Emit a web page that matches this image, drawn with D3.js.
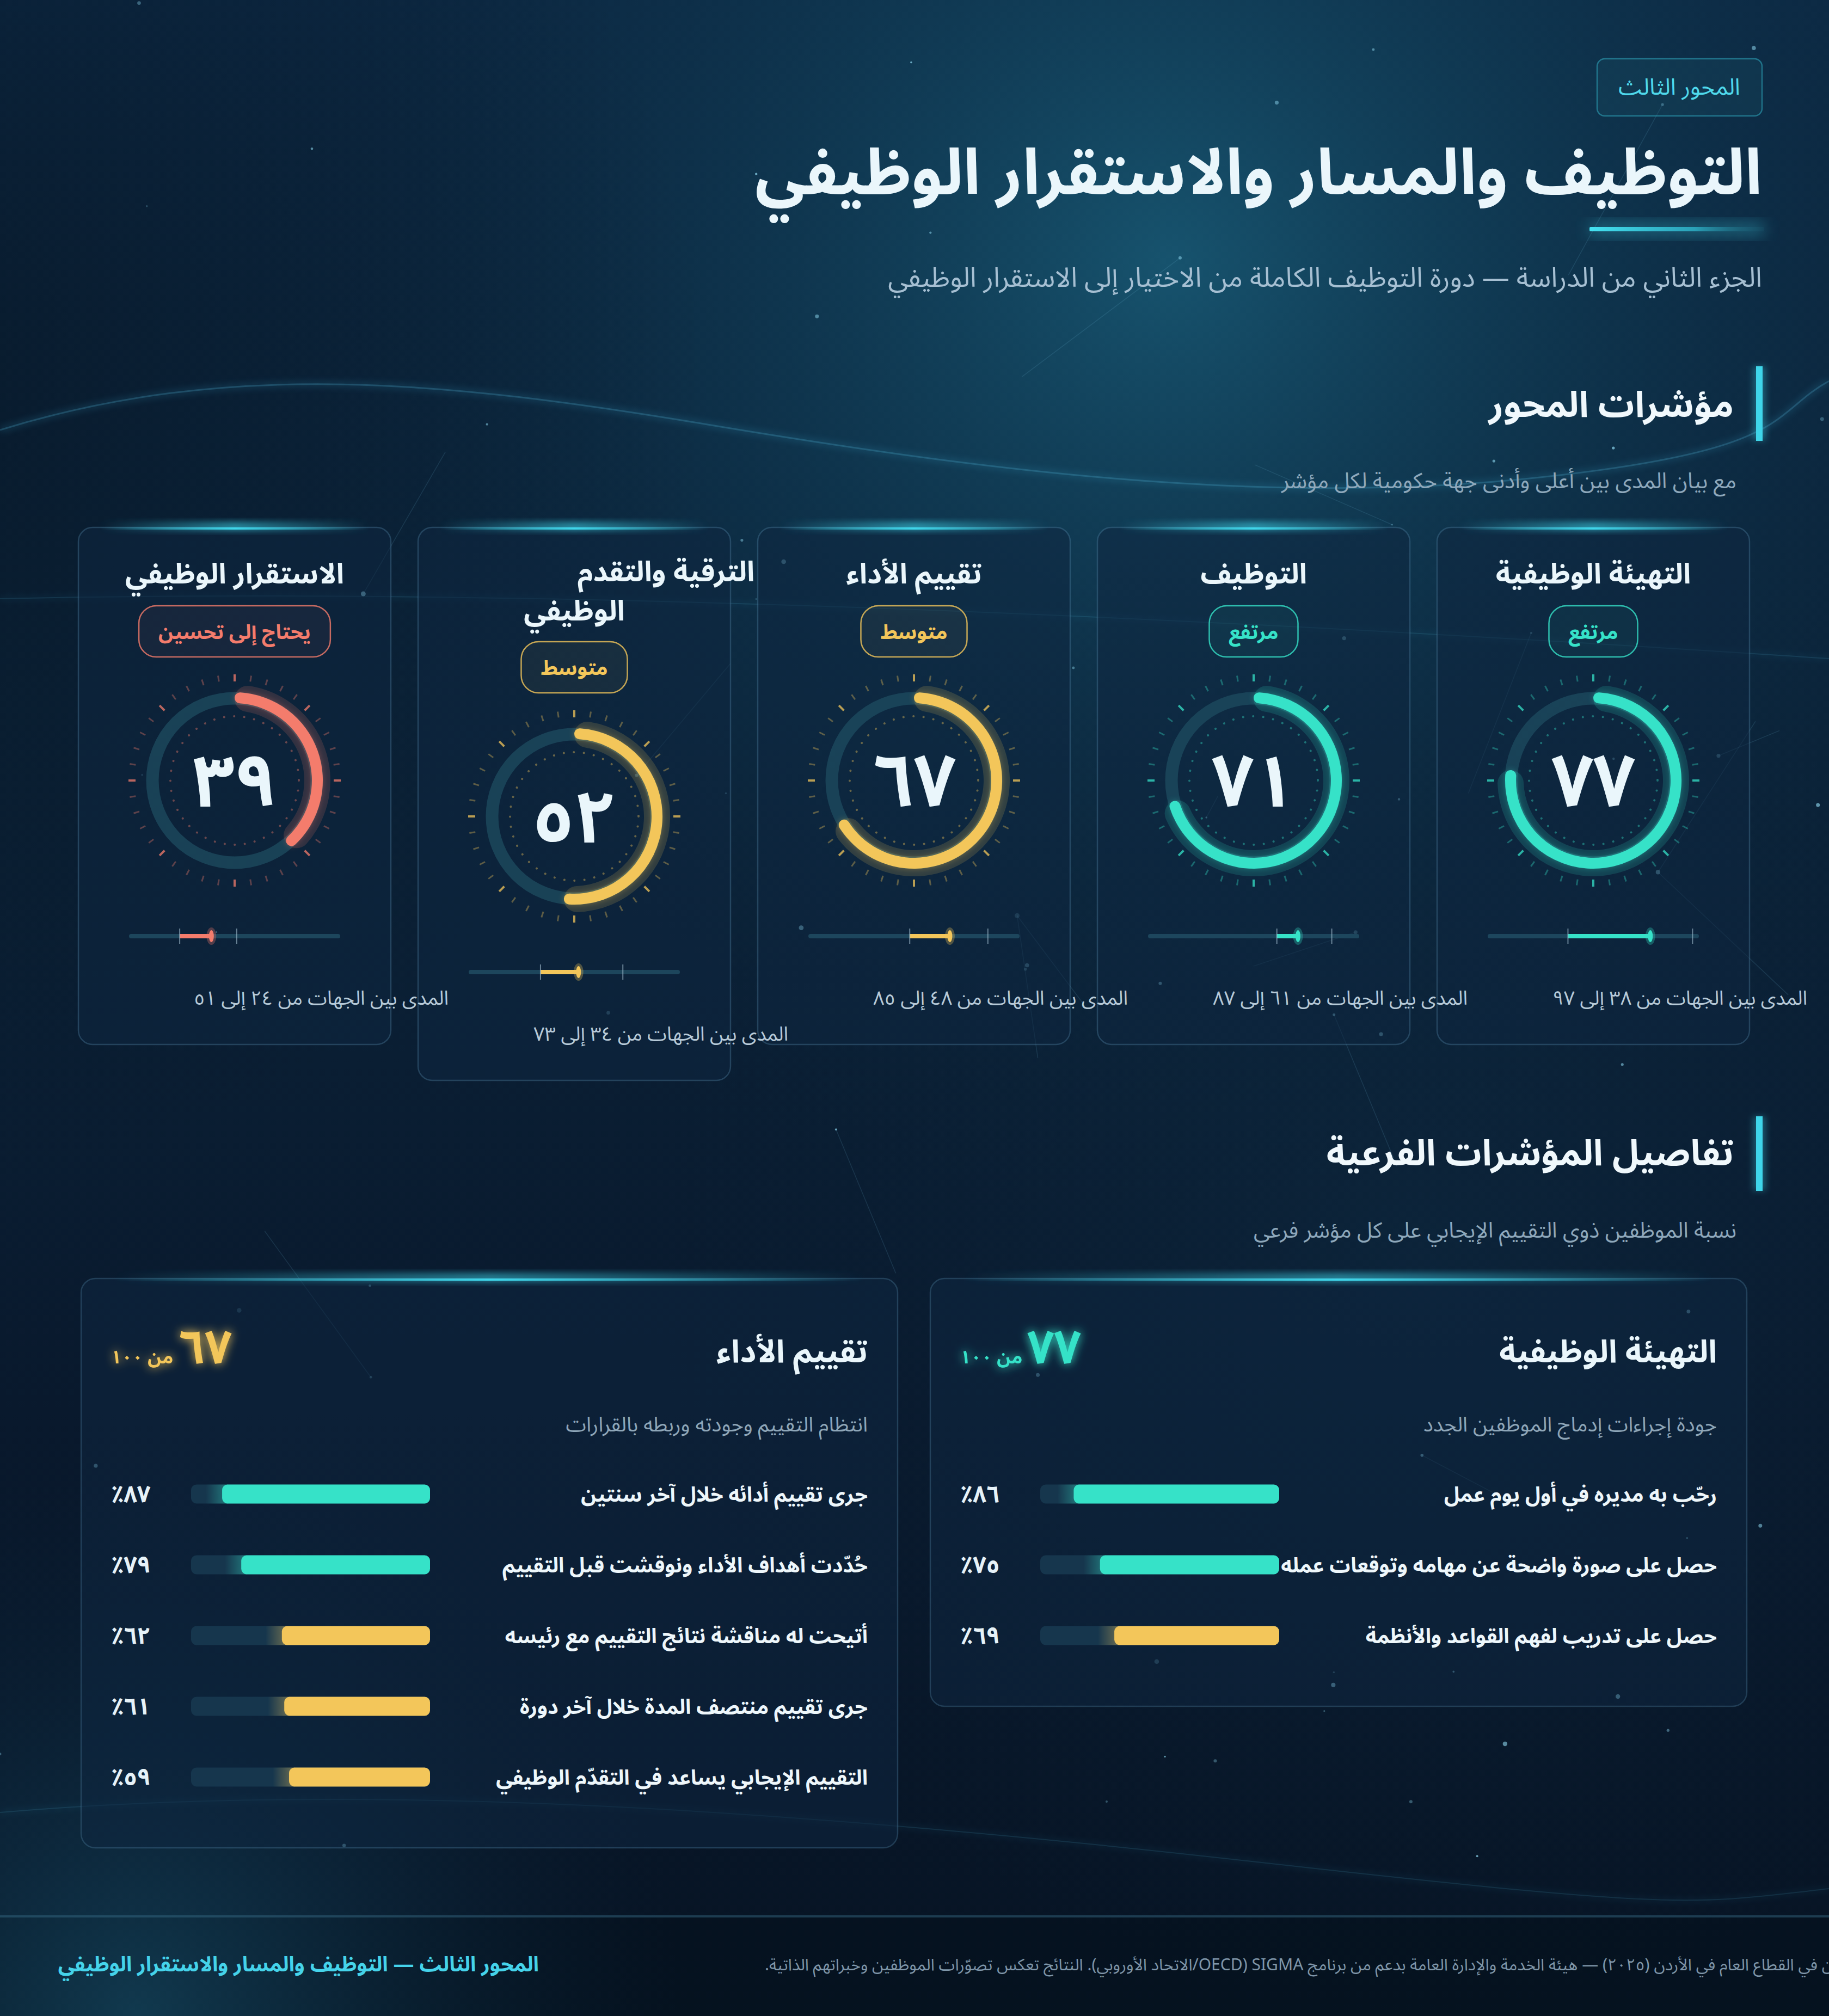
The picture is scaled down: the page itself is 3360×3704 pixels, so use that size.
<!DOCTYPE html>
<html lang="ar" dir="rtl">
<head>
<meta charset="utf-8">
<script src="https://cdn.jsdelivr.net/npm/d3@7"></script>
<style>
html,body{margin:0;padding:0;background:#081a2c;overflow:hidden;}
svg{display:block;}
</style>
</head>
<body>
<svg id="chart"></svg>
<script>
// ---------------- DATA ----------------
const indicatorNames = ["التهيئة الوظيفية", "التوظيف", "تقييم الأداء", "الترقية والتقدم الوظيفي", "الاستقرار الوظيفي"];
const indicatorScores = [77, 71, 67, 52, 39];
const rangeMin = [38, 61, 48, 34, 24];
const rangeMax = [97, 87, 85, 73, 51];
const levelLabels = ["مرتفع", "متوسط", "يحتاج إلى تحسين"];

const detailTitles = ["التهيئة الوظيفية", "تقييم الأداء"];
const detailScores = [77, 67];
const detailSubtitles = ["جودة إجراءات إدماج الموظفين الجدد", "انتظام التقييم وجودته وربطه بالقرارات"];
const onboardingItems = ["رحّب به مديره في أول يوم عمل", "حصل على صورة واضحة عن مهامه وتوقعات عمله", "حصل على تدريب لفهم القواعد والأنظمة"];
const onboardingValues = [86, 75, 69];
const performanceItems = ["جرى تقييم أدائه خلال آخر سنتين", "حُدّدت أهداف الأداء ونوقشت قبل التقييم", "أتيحت له مناقشة نتائج التقييم مع رئيسه", "جرى تقييم منتصف المدة خلال آخر دورة", "التقييم الإيجابي يساعد في التقدّم الوظيفي"];
const performanceValues = [87, 79, 62, 61, 59];

const texts = {
  tag: "المحور الثالث",
  title: "التوظيف والمسار والاستقرار الوظيفي",
  subtitle: "الجزء الثاني من الدراسة — دورة التوظيف الكاملة من الاختيار إلى الاستقرار الوظيفي",
  sec1: "مؤشرات المحور",
  sec1sub: "مع بيان المدى بين أعلى وأدنى جهة حكومية لكل مؤشر",
  sec2: "تفاصيل المؤشرات الفرعية",
  sec2sub: "نسبة الموظفين ذوي التقييم الإيجابي على كل مؤشر فرعي",
  footerLeft: "المحور الثالث — التوظيف والمسار والاستقرار الوظيفي",
  footerSource: "المصدر: مسح الموظفين في القطاع العام في الأردن (٢٠٢٥) — هيئة الخدمة والإدارة العامة بدعم من برنامج SIGMA (OECD/الاتحاد الأوروبي). النتائج تعكس تصوّرات الموظفين وخبراتهم الذاتية."
};

// ---------------- SETUP ----------------
const W = 3360, H = 3704;
const FONT = "'Noto Sans Arabic','Noto Kufi Arabic','DejaVu Sans',sans-serif";
const C = { teal: "#36e2c8", yellow: "#f3c65a", coral: "#f47c6c", cyan: "#3fd6ea", white: "#eaf6fb", muted: "#9db6c8" };
const toAr = n => String(n).replace(/[0-9]/g, d => "٠١٢٣٤٥٦٧٨٩"[d]);
const levelIdx = v => v >= 70 ? 0 : (v >= 50 ? 1 : 2);
const levelColor = v => [C.teal, C.yellow, C.coral][levelIdx(v)];

const svg = d3.select("#chart").attr("width", W).attr("height", H).attr("viewBox", `0 0 ${W} ${H}`)
  .style("font-family", FONT);
const defs = svg.append("defs");

function linGrad(id, stops, x2 = 0, y2 = 1) {
  const g = defs.append("linearGradient").attr("id", id).attr("x1", 0).attr("y1", 0).attr("x2", x2).attr("y2", y2);
  stops.forEach(s => g.append("stop").attr("offset", s[0]).attr("stop-color", s[1]).attr("stop-opacity", s[2] == null ? 1 : s[2]));
  return g;
}
function radGrad(id, cx, cy, r, stops) {
  const g = defs.append("radialGradient").attr("id", id).attr("gradientUnits", "userSpaceOnUse")
    .attr("cx", cx).attr("cy", cy).attr("r", r);
  stops.forEach(s => g.append("stop").attr("offset", s[0]).attr("stop-color", s[1]).attr("stop-opacity", s[2]));
}
linGrad("bgLin", [[0, "#0c2843"], [0.35, "#0b2339"], [0.7, "#09192d"], [1, "#071424"]]);
radGrad("bgGlow", 2150, 480, 1750, [[0, "#185873", 0.9], [0.45, "#114059", 0.5], [1, "#0b2339", 0]]);
radGrad("leftDark", -200, 700, 1500, [[0, "#06121f", 0.55], [1, "#06121f", 0]]);
radGrad("footGlow", 250, 3700, 1000, [[0, "#15465e", 0.75], [1, "#0b2339", 0]]);
radGrad("midGlow", 2600, 2300, 1400, [[0, "#0f2e46", 0.45], [1, "#0b2339", 0]]);
linGrad("hGlow", [[0, C.cyan, 0], [0.5, C.cyan, 1], [1, C.cyan, 0]], 1, 0);
linGrad("underline", [[0, "#45e3f2", 1], [0.6, "#2fb6cc", 0.8], [1, "#1c5a70", 0.2]], 1, 0);

const blur = (id, sd) => defs.append("filter").attr("id", id).attr("x", "-50%").attr("y", "-50%").attr("width", "200%").attr("height", "200%")
  .append("feGaussianBlur").attr("stdDeviation", sd);
blur("blur6", 6); blur("blur14", 14); blur("blur3", 3);
const glowF = defs.append("filter").attr("id", "glowText").attr("x", "-30%").attr("y", "-50%").attr("width", "160%").attr("height", "200%");
glowF.append("feGaussianBlur").attr("in", "SourceGraphic").attr("stdDeviation", 9).attr("result", "b");
const gm = glowF.append("feMerge"); gm.append("feMergeNode").attr("in", "b"); gm.append("feMergeNode").attr("in", "SourceGraphic");

// ---------------- BACKGROUND ----------------
const bg = svg.append("g");
bg.append("rect").attr("width", W).attr("height", H).attr("fill", "url(#bgLin)");
bg.append("rect").attr("width", W).attr("height", H).attr("fill", "url(#bgGlow)");
bg.append("rect").attr("width", W).attr("height", H).attr("fill", "url(#midGlow)");
bg.append("rect").attr("width", W).attr("height", H).attr("fill", "url(#leftDark)");
bg.append("rect").attr("y", 3521).attr("width", W).attr("height", H - 3521).attr("fill", "#040d18").attr("opacity", 0.35);
bg.append("rect").attr("width", W).attr("height", H).attr("fill", "url(#footGlow)");

// decorative wave lines
const waves = [
  "M0,790 C420,660 820,700 1300,780 S2300,930 2800,880 S3250,760 3360,700",
  "M0,1100 C900,1080 2000,1120 3360,1210",
  "M0,3330 C700,3270 1500,3330 2300,3420 S3100,3500 3360,3470"
];
waves.forEach((d, i) => {
  bg.append("path").attr("d", d).attr("fill", "none").attr("stroke", "#3aa8cf").attr("stroke-width", i === 0 ? 12 : 8)
    .attr("opacity", i === 0 ? 0.15 : 0.08).attr("filter", "url(#blur6)");
  bg.append("path").attr("d", d).attr("fill", "none").attr("stroke", "#5cc3e6").attr("stroke-width", i === 0 ? 3 : 2)
    .attr("opacity", i === 0 ? 0.22 : 0.12);
});
// constellation (decoration)
let seed = 7;
const rnd = () => (seed = (seed * 16807) % 2147483647) / 2147483647;
const stars = d3.range(70).map(() => [rnd() * W, rnd() * 3500, 1.5 + rnd() * 3, 0.25 + rnd() * 0.5]);
const links = d3.range(18).map(() => { const a = stars[Math.floor(rnd() * 70)]; return [a, [a[0] + (rnd() - 0.5) * 600, a[1] + (rnd() - 0.5) * 700]]; });
bg.selectAll(".lnk").data(links).join("line").attr("x1", d => d[0][0]).attr("y1", d => d[0][1]).attr("x2", d => d[1][0]).attr("y2", d => d[1][1])
  .attr("stroke", "#6fb8d8").attr("stroke-width", 1.5).attr("opacity", 0.15);
bg.selectAll(".st").data(stars).join("circle").attr("cx", d => d[0]).attr("cy", d => d[1]).attr("r", d => d[2])
  .attr("fill", "#8fd8f0").attr("opacity", d => d[3]);

// ---------------- HEADER ----------------
const hd = svg.append("g");
hd.append("rect").attr("x", 2934).attr("y", 108).attr("width", 303).attr("height", 105).attr("rx", 14)
  .attr("fill", "#1a5568").attr("fill-opacity", 0.25).attr("stroke", "#2fa9bf").attr("stroke-opacity", 0.55).attr("stroke-width", 2.5);
hd.append("text").attr("x", 3085).attr("y", 174).attr("text-anchor", "middle").attr("direction", "rtl")
  .attr("font-size", 42).attr("fill", "#4fd9ec").text(texts.tag);
hd.append("text").attr("x", 3237).attr("y", 356).attr("direction", "rtl").attr("text-anchor", "start")
  .attr("font-size", 116).attr("font-weight", 700).attr("fill", C.white).text(texts.title);
hd.append("rect").attr("x", 2920).attr("y", 410).attr("width", 321).attr("height", 22).attr("fill", C.cyan).attr("opacity", 0.35).attr("filter", "url(#blur14)");
hd.append("rect").attr("x", 2920).attr("y", 417).attr("width", 321).attr("height", 8).attr("rx", 2).attr("fill", "url(#underline)");
hd.append("text").attr("x", 3237).attr("y", 527).attr("direction", "rtl").attr("text-anchor", "start")
  .attr("font-size", 50).attr("fill", "#a6bfd2").text(texts.subtitle);

function sectionHeader(title, sub, barTop, titleY, subY) {
  const g = svg.append("g");
  g.append("rect").attr("x", 3226).attr("y", barTop).attr("width", 12).attr("height", 137).attr("fill", C.cyan);
  g.append("rect").attr("x", 3220).attr("y", barTop).attr("width", 24).attr("height", 137).attr("fill", C.cyan).attr("opacity", 0.3).attr("filter", "url(#blur6)");
  g.append("text").attr("x", 3185).attr("y", titleY).attr("direction", "rtl").attr("text-anchor", "start")
    .attr("font-size", 66).attr("font-weight", 700).attr("fill", "#f0f8fc").text(title);
  g.append("text").attr("x", 3190).attr("y", subY).attr("direction", "rtl").attr("text-anchor", "start")
    .attr("font-size", 40).attr("fill", "#8ea8bb").text(sub);
}
sectionHeader(texts.sec1, texts.sec1sub, 673, 766, 897);
sectionHeader(texts.sec2, texts.sec2sub, 2051, 2141, 2274);

// ---------------- INDICATOR CARDS ----------------
const cardX = d3.scaleBand().domain(indicatorNames.slice().reverse()).range([144, 3214]).paddingInner(50 / 624);
const pct = d3.scaleLinear().domain([0, 100]).range([0, 2 * Math.PI]);
const CARD_TOP = 969, GR = 152;
const cards = svg.append("g");

indicatorNames.forEach((name, i) => {
  const v = indicatorScores[i], col = levelColor(v), lvl = levelIdx(v);
  const x0 = cardX(name), bw = cardX.bandwidth(), cx = x0 + bw / 2;
  const g = cards.append("g");
  // title (maybe wrapped)
  const words = name.split(" ");
  const tmp = g.append("text").attr("font-size", 52).attr("font-weight", 700).text(name);
  const tw = tmp.node().getComputedTextLength(); tmp.remove();
  const wrapped = tw > 470;
  const shift = wrapped ? 66 : 0;
  const cardH = 950 + shift;
  // card bg
  g.append("rect").attr("x", x0).attr("y", CARD_TOP).attr("width", bw).attr("height", cardH).attr("rx", 26)
    .attr("fill", "#0f2640").attr("fill-opacity", 0.55).attr("stroke", "#5b8fb0").attr("stroke-opacity", 0.32).attr("stroke-width", 2.5);
  g.append("rect").attr("x", x0 + 40).attr("y", CARD_TOP - 10).attr("width", bw - 80).attr("height", 16).attr("fill", "url(#hGlow)").attr("opacity", 0.6).attr("filter", "url(#blur6)");
  g.append("rect").attr("x", x0 + 40).attr("y", CARD_TOP).attr("width", bw - 80).attr("height", 4).attr("fill", "url(#hGlow)");
  if (!wrapped) {
    g.append("text").attr("x", cx).attr("y", 1072).attr("text-anchor", "middle").attr("direction", "rtl")
      .attr("font-size", 52).attr("font-weight", 700).attr("fill", C.white).text(name);
  } else {
    g.append("text").attr("x", cx + 6).attr("y", 1068).attr("text-anchor", "end").attr("direction", "rtl")
      .attr("font-size", 52).attr("font-weight", 700).attr("fill", C.white).text(words.slice(0, -1).join(" "));
    g.append("text").attr("x", cx).attr("y", 1140).attr("text-anchor", "middle").attr("direction", "rtl")
      .attr("font-size", 52).attr("font-weight", 700).attr("fill", C.white).text(words[words.length - 1]);
  }
  // badge
  const bt = g.append("text").attr("x", cx).attr("y", 1174 + shift).attr("text-anchor", "middle").attr("direction", "rtl")
    .attr("font-size", 37).attr("font-weight", 700).attr("fill", col).text(levelLabels[lvl]);
  const bwid = bt.node().getComputedTextLength() + 72;
  g.insert("rect", "text:last-of-type").attr("x", cx - bwid / 2).attr("y", 1113 + shift).attr("width", bwid).attr("height", 94).attr("rx", 32)
    .attr("fill", col).attr("fill-opacity", 0.05).attr("stroke", col).attr("stroke-opacity", 0.8).attr("stroke-width", 2.5);
  bt.raise();
  // gauge
  const cy = 1434 + shift;
  const gg = g.append("g").attr("transform", `translate(${cx},${cy})`);
  gg.selectAll(".tk").data(d3.range(40)).join("line")
    .attr("x1", k => Math.sin(k * Math.PI / 20) * (k % 5 === 0 ? 182 : 184))
    .attr("y1", k => -Math.cos(k * Math.PI / 20) * (k % 5 === 0 ? 182 : 184))
    .attr("x2", k => Math.sin(k * Math.PI / 20) * 195)
    .attr("y2", k => -Math.cos(k * Math.PI / 20) * 195)
    .attr("stroke", col).attr("stroke-width", k => k % 5 === 0 ? 4 : 3)
    .attr("opacity", k => k % 5 === 0 ? 0.75 : 0.35);
  gg.append("circle").attr("r", 118).attr("fill", "none").attr("stroke", col).attr("stroke-opacity", 0.4)
    .attr("stroke-width", 4).attr("stroke-linecap", "round").attr("stroke-dasharray", "0.1 18.4");
  gg.append("circle").attr("r", 151).attr("fill", "none").attr("stroke", "#1d4a5e").attr("stroke-opacity", 0.8).attr("stroke-width", 23);
  gg.append("path").attr("d", d3.arc().innerRadius(GR - 24).outerRadius(GR + 24).cornerRadius(24).startAngle(0).endAngle(pct(v))())
    .attr("fill", col).attr("opacity", 0.16);
  gg.append("path").attr("d", d3.arc().innerRadius(GR - 10).outerRadius(GR + 10).cornerRadius(10).startAngle(0).endAngle(pct(v))())
    .attr("fill", col).attr("opacity", 0.35).attr("filter", "url(#blur6)");
  gg.append("path").attr("d", d3.arc().innerRadius(GR - 10).outerRadius(GR + 10).cornerRadius(10).startAngle(0).endAngle(pct(v))())
    .attr("fill", col);
  gg.append("text").attr("y", 47).attr("text-anchor", "middle").attr("font-size", 134).attr("font-weight", 700)
    .attr("fill", C.white).text(toAr(v));
  // range bar
  const rx = d3.scaleLinear().domain([0, 100]).range([cx - 194, cx + 194]);
  const ry = 1720 + shift;
  g.append("rect").attr("x", rx(0)).attr("y", ry - 4).attr("width", rx(100) - rx(0)).attr("height", 8).attr("rx", 4).attr("fill", "#1f4a60").attr("opacity", 0.9);
  g.append("rect").attr("x", rx(rangeMin[i])).attr("y", ry - 4).attr("width", rx(v) - rx(rangeMin[i])).attr("height", 8).attr("fill", col);
  [rangeMin[i], rangeMax[i]].forEach(m => g.append("line").attr("x1", rx(m)).attr("x2", rx(m)).attr("y1", ry - 14).attr("y2", ry + 14)
    .attr("stroke", "#a9c3d3").attr("stroke-opacity", 0.6).attr("stroke-width", 2));
  g.append("ellipse").attr("cx", rx(v)).attr("cy", ry).attr("rx", 9).attr("ry", 16).attr("fill", col).attr("opacity", 0.3);
  g.append("ellipse").attr("cx", rx(v)).attr("cy", ry).attr("rx", 4.5).attr("ry", 11).attr("fill", col);
  g.append("text").attr("x", cx - 75).attr("y", 1846 + shift).attr("direction", "rtl").attr("text-anchor", "end")
    .attr("font-size", 36).attr("fill", "#b7cad8")
    .text(`المدى بين الجهات من ${toAr(rangeMin[i])} إلى ${toAr(rangeMax[i])}`);
});

// ---------------- DETAIL PANELS ----------------
const panelX = d3.scaleBand().domain(detailTitles.slice().reverse()).range([149, 3209]).paddingInner(60 / 1560);
const detailItems = [onboardingItems, performanceItems];
const detailValues = [onboardingValues, performanceValues];
const PANEL_TOP = 2349;
const rowY = d3.scaleLinear().domain([0, 1]).range([2745, 2875]);
const barW = d3.scaleLinear().domain([0, 100]).range([0, 439]);

detailTitles.forEach((t, p) => {
  const x0 = panelX(t), pw = panelX.bandwidth(), xr = x0 + pw;
  const items = detailItems[p], vals = detailValues[p];
  const ph = rowY(items.length - 1) + 130 - PANEL_TOP;
  const sc = detailScores[p], scol = levelColor(sc);
  const g = svg.append("g");
  g.append("rect").attr("x", x0).attr("y", PANEL_TOP).attr("width", pw).attr("height", ph).attr("rx", 26)
    .attr("fill", "#0f2640").attr("fill-opacity", 0.55).attr("stroke", "#5b8fb0").attr("stroke-opacity", 0.3).attr("stroke-width", 2.5);
  g.append("rect").attr("x", x0 + 60).attr("y", PANEL_TOP - 10).attr("width", pw - 120).attr("height", 16).attr("fill", "url(#hGlow)").attr("opacity", 0.55).attr("filter", "url(#blur6)");
  g.append("rect").attr("x", x0 + 60).attr("y", PANEL_TOP).attr("width", pw - 120).attr("height", 4).attr("fill", "url(#hGlow)");
  g.append("text").attr("x", xr - 55).attr("y", 2503).attr("direction", "rtl").attr("text-anchor", "start")
    .attr("font-size", 58).attr("font-weight", 700).attr("fill", C.white).text(t);
  const st = g.append("text").attr("x", x0 + 55).attr("y", 2505).attr("direction", "rtl").attr("text-anchor", "end")
    .attr("fill", scol).attr("filter", "url(#glowText)");
  st.append("tspan").attr("font-size", 86).attr("font-weight", 700).text(toAr(sc));
  st.append("tspan").attr("font-size", 34).attr("font-weight", 700).text(" من " + toAr(100));
  g.append("text").attr("x", xr - 55).attr("y", 2630).attr("direction", "rtl").attr("text-anchor", "start")
    .attr("font-size", 38).attr("fill", "#8ea6b8").text(detailSubtitles[p]);
  const trackR = x0 + 641, trackL = trackR - barW(100);
  items.forEach((it, k) => {
    const y = rowY(k), v = vals[k], c = levelColor(v), fl = trackR - barW(v);
    const gid = `bg${p}_${k}`;
    linGrad(gid, [[0, c, 0], [1, c, 0.55]], 1, 0);
    g.append("rect").attr("x", trackL).attr("y", y - 17.5).attr("width", barW(100)).attr("height", 35).attr("rx", 10).attr("fill", "#173850").attr("opacity", 0.9);
    g.append("rect").attr("x", fl - 30).attr("y", y - 17.5).attr("width", 40).attr("height", 35).attr("fill", `url(#${gid})`).attr("opacity", 0.7);
    g.append("rect").attr("x", fl).attr("y", y - 17.5).attr("width", barW(v)).attr("height", 35).attr("rx", 10).attr("fill", c);
    g.append("text").attr("x", xr - 55).attr("y", y + 14).attr("direction", "rtl").attr("text-anchor", "start")
      .attr("font-size", 38).attr("font-weight", 700).attr("fill", "#eef7fb").text(it);
    g.append("text").attr("x", x0 + 55).attr("y", y + 15).attr("direction", "rtl").attr("text-anchor", "end")
      .attr("font-size", 43).attr("font-weight", 700).attr("fill", "#e6f2f8").text(toAr(v) + "٪");
  });
});

// ---------------- FOOTER ----------------
const ft = svg.append("g");
ft.append("rect").attr("x", 0).attr("y", 3519).attr("width", W).attr("height", 4).attr("fill", "#3a6f8a").attr("opacity", 0.45);
ft.append("text").attr("x", 990).attr("y", 3622).attr("direction", "rtl").attr("text-anchor", "start")
  .attr("font-size", 38).attr("font-weight", 700).attr("fill", "#45d3ea").text(texts.footerLeft);
ft.append("text").attr("x", 1405).attr("y", 3620).attr("direction", "rtl").attr("text-anchor", "end")
  .attr("font-size", 30).attr("fill", "#7f96a9").text(texts.footerSource);
</script>
</body>
</html>
